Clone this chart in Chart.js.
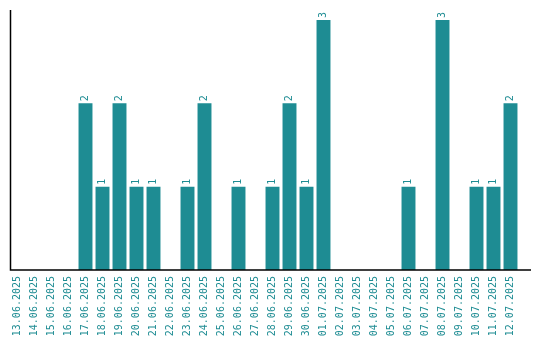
<!DOCTYPE html>
<html>
<head>
<meta charset="utf-8">
<script src="https://cdn.jsdelivr.net/npm/chart.js@4"></script>
<style>
  html, body { margin: 0; padding: 0; background: #fff; }
  #wrap { width: 540px; height: 340px; }
</style>
</head>
<body>
<div id="wrap"><canvas id="grafico"></canvas></div>
<script>
const dates = [
  "13.06.2025", "14.06.2025", "15.06.2025", "16.06.2025", "17.06.2025",
  "18.06.2025", "19.06.2025", "20.06.2025", "21.06.2025", "22.06.2025",
  "23.06.2025", "24.06.2025", "25.06.2025", "26.06.2025", "27.06.2025",
  "28.06.2025", "29.06.2025", "30.06.2025", "01.07.2025", "02.07.2025",
  "03.07.2025", "04.07.2025", "05.07.2025", "06.07.2025", "07.07.2025",
  "08.07.2025", "09.07.2025", "10.07.2025", "11.07.2025", "12.07.2025"
];
const counts = [0, 0, 0, 0, 2, 1, 2, 1, 1, 0, 1, 2, 0, 1, 0, 1, 2, 1, 3, 0, 0, 0, 0, 1, 0, 3, 0, 1, 1, 2];

const teal = "#1e8c93";
const monoFont = "'DejaVu Sans Mono', monospace";

// value above each bar, rotated, plus the two axis lines
const extras = {
  id: "extras",
  afterDatasetsDraw(chart) {
    const ctx = chart.ctx;
    const meta = chart.getDatasetMeta(0);
    ctx.save();
    ctx.fillStyle = teal;
    ctx.font = "10px " + monoFont;
    ctx.textAlign = "left";
    ctx.textBaseline = "middle";
    meta.data.forEach((bar, i) => {
      if (!counts[i]) return;
      ctx.save();
      ctx.translate(bar.x, bar.y - 2);
      ctx.rotate(-Math.PI / 2);
      ctx.fillText(String(counts[i]), 0, 0);
      ctx.restore();
    });
    ctx.restore();
  },
  afterDraw(chart) {
    const ctx = chart.ctx;
    const a = chart.chartArea;
    ctx.save();
    ctx.strokeStyle = "#000";
    ctx.lineWidth = 1.5;
    ctx.beginPath();
    ctx.moveTo(10.5, 10);
    ctx.lineTo(10.5, a.bottom);
    ctx.lineTo(531, a.bottom);
    ctx.stroke();
    ctx.restore();
  }
};

new Chart("grafico", {
  type: "bar",
  data: {
    labels: dates,
    datasets: [{
      data: counts,
      backgroundColor: teal,
      borderWidth: 0,
      categoryPercentage: 1,
      barPercentage: 0.82
    }]
  },
  options: {
    responsive: true,
    maintainAspectRatio: false,
    animation: false,
    layout: { padding: { left: 9, right: 21, top: 10, bottom: 0 } },
    plugins: { legend: { display: false }, tooltip: { enabled: false } },
    scales: {
      x: {
        grid: { display: false, drawTicks: false },
        border: { display: false },
        ticks: {
          color: teal,
          font: { family: monoFont, size: 10 },
          minRotation: 90,
          maxRotation: 90,
          autoSkip: false,
          padding: 6
        },
        afterFit(scale) { scale.height = 70; }
      },
      y: {
        display: false,
        min: 0,
        max: 3.12
      }
    }
  },
  plugins: [extras]
});
</script>
</body>
</html>
